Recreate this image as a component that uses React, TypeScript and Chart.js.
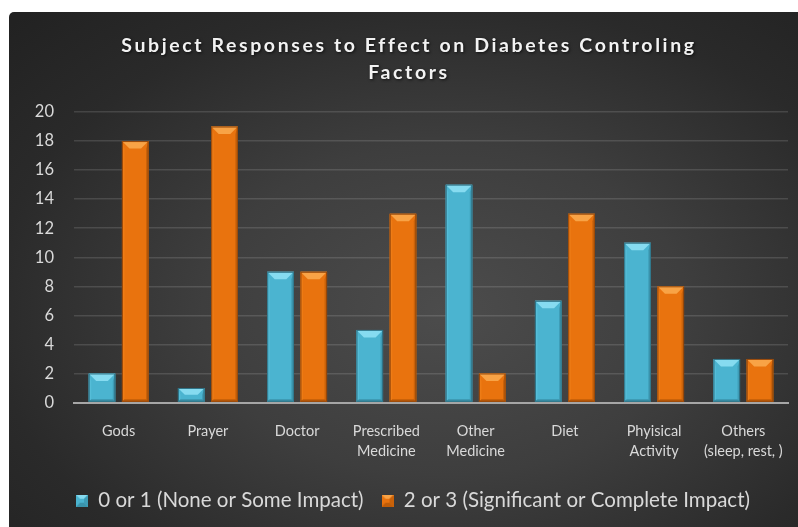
import React, { useEffect, useRef } from "react";
import { Chart, registerables } from "chart.js";

Chart.register(...registerables);

const categories: (string | string[])[] = [
  "Gods",
  "Prayer",
  "Doctor",
  ["Prescribed", "Medicine"],
  ["Other", "Medicine"],
  "Diet",
  ["Phyisical", "Activity"],
  ["Others", "(sleep, rest, )"],
];
const lowImpact = [2, 1, 9, 5, 15, 7, 11, 3];
const highImpact = [18, 19, 9, 13, 2, 13, 8, 3];
const seriesNames = ["0 or 1 (None or Some Impact)", "2 or 3 (Significant or Complete Impact)"];
const titleLines = ["Subject Responses to Effect on Diabetes Controling", "Factors"];

const CYAN = { body: "#4bb4d0", top: "#86dbf0", left: "#55bdd8", right: "#3e9cb6", bottom: "#3a93ab", edge: "#2f7184" };
const ORANGE = { body: "#e9730e", top: "#f8a346", left: "#ee7c16", right: "#c9620a", bottom: "#bf5c08", edge: "#94470a" };
const palettes = [CYAN, ORANGE];

function makeIcon(p: typeof CYAN): HTMLCanvasElement {
  const c = document.createElement("canvas");
  c.width = 12;
  c.height = 12;
  const g = c.getContext("2d")!;
  g.fillStyle = p.body;
  g.fillRect(0, 0, 12, 12);
  g.fillStyle = p.top;
  g.beginPath();
  g.moveTo(0, 0);
  g.lineTo(12, 0);
  g.lineTo(8, 4);
  g.lineTo(4, 4);
  g.closePath();
  g.fill();
  g.fillStyle = p.right;
  g.beginPath();
  g.moveTo(12, 0);
  g.lineTo(12, 12);
  g.lineTo(8, 8);
  g.lineTo(8, 4);
  g.closePath();
  g.fill();
  g.fillStyle = p.bottom;
  g.beginPath();
  g.moveTo(0, 12);
  g.lineTo(12, 12);
  g.lineTo(8, 8);
  g.lineTo(4, 8);
  g.closePath();
  g.fill();
  return c;
}

const bevelPlugin = {
  id: "bevel",
  afterDatasetsDraw(chart: any) {
    const ctx = chart.ctx;
    chart.data.datasets.forEach((_: any, di: number) => {
      const meta = chart.getDatasetMeta(di);
      const p = palettes[di];
      meta.data.forEach((bar: any) => {
        const { x, y, base, width } = bar.getProps(["x", "y", "base", "width"], true);
        const l = x - width / 2;
        const r = x + width / 2;
        const t = Math.min(y, base);
        const bt = Math.max(y, base);
        const h = bt - t;
        const b = Math.min(7.5, width / 2, h / 2);
        const s = Math.min(2.5, h / 2);
        ctx.save();
        ctx.fillStyle = p.left;
        ctx.beginPath();
        ctx.moveTo(l, t);
        ctx.lineTo(l + s, t + b);
        ctx.lineTo(l + s, bt - s);
        ctx.lineTo(l, bt);
        ctx.closePath();
        ctx.fill();
        ctx.fillStyle = p.right;
        ctx.beginPath();
        ctx.moveTo(r, t);
        ctx.lineTo(r - s, t + b);
        ctx.lineTo(r - s, bt - s);
        ctx.lineTo(r, bt);
        ctx.closePath();
        ctx.fill();
        ctx.fillStyle = p.bottom;
        ctx.beginPath();
        ctx.moveTo(l, bt);
        ctx.lineTo(l + s, bt - s);
        ctx.lineTo(r - s, bt - s);
        ctx.lineTo(r, bt);
        ctx.closePath();
        ctx.fill();
        ctx.fillStyle = p.top;
        ctx.beginPath();
        ctx.moveTo(l, t);
        ctx.lineTo(r, t);
        ctx.lineTo(r - b, t + b);
        ctx.lineTo(l + b, t + b);
        ctx.closePath();
        ctx.fill();
        ctx.strokeStyle = p.edge;
        ctx.lineWidth = 1;
        ctx.strokeRect(l + 0.5, t + 0.5, width - 1, h - 1);
        ctx.restore();
      });
    });
  },
};

const titlePlugin = {
  id: "customTitle",
  afterDraw(chart: any) {
    const ctx = chart.ctx;
    ctx.save();
    ctx.font = "bold 19.5px Lato";
    (ctx as any).letterSpacing = "2.6px";
    ctx.fillStyle = "#f2f2f2";
    ctx.textAlign = "center";
    ctx.textBaseline = "middle";
    ctx.shadowColor = "rgba(0,0,0,0.7)";
    ctx.shadowBlur = 3;
    ctx.shadowOffsetX = 1;
    ctx.shadowOffsetY = 1;
    const cx = 400;
    ctx.fillText(titleLines[0], cx, 34);
    ctx.fillText(titleLines[1], cx, 61);
    ctx.restore();
  },
};

export default function App() {
  const ref = useRef<HTMLCanvasElement>(null);
  useEffect(() => {
    const icons = palettes.map(makeIcon);
    const chart = new Chart(ref.current!, {
      type: "bar",
      data: {
        labels: categories,
        datasets: [
          {
            label: seriesNames[0],
            data: lowImpact,
            backgroundColor: CYAN.body,
            borderWidth: 0,
            categoryPercentage: 0.745,
            barPercentage: 0.8,
          },
          {
            label: seriesNames[1],
            data: highImpact,
            backgroundColor: ORANGE.body,
            borderWidth: 0,
            categoryPercentage: 0.745,
            barPercentage: 0.8,
          },
        ],
      },
      options: {
        animation: false,
        responsive: true,
        maintainAspectRatio: false,
        layout: { padding: { top: 100, left: 0, right: 0, bottom: 6 } },
        plugins: {
          title: { display: false },
          tooltip: { enabled: false },
          legend: {
            position: "bottom",
            labels: {
              color: "#d9d9d9",
              font: { family: "Lato", size: 20.5 },
              boxWidth: 12,
              boxHeight: 12,
              padding: 18,
              usePointStyle: true,
              generateLabels: (ch: any) =>
                ch.data.datasets.map((ds: any, i: number) => ({
                  text: ds.label,
                  pointStyle: icons[i],
                  fillStyle: palettes[i].body,
                  strokeStyle: palettes[i].body,
                  lineWidth: 0,
                  fontColor: "#d9d9d9",
                  datasetIndex: i,
                  hidden: false,
                })),
            },
          },
        },
        scales: {
          x: {
            grid: { display: false, drawTicks: false },
            border: { display: true, color: "#a6a6a6", width: 2 },
            ticks: {
              color: "#d9d9d9",
              font: { family: "Lato", size: 14.5, lineHeight: 1.35 },
              padding: 19,
              maxRotation: 0,
              autoSkip: false,
            },
            afterFit: (s: any) => {
              s.height = 70;
            },
          },
          y: {
            min: 0,
            max: 20,
            grid: { color: "rgba(255,255,255,0.13)", lineWidth: 1.5, drawTicks: false },
            border: { display: false },
            ticks: {
              stepSize: 2,
              color: "#d9d9d9",
              font: { family: "Lato", size: 16.5 },
              padding: 20,
            },
            afterFit: (s: any) => {
              s.width = 65;
            },
          },
          yRightSpacer: {
            position: "right",
            min: 0,
            max: 20,
            grid: { display: false, drawTicks: false },
            border: { display: false },
            ticks: { display: false },
            afterFit: (s: any) => {
              s.width = 29;
            },
          },
        },
      },
      plugins: [bevelPlugin, titlePlugin],
    });
    return () => chart.destroy();
  }, []);

  return (
    <div style={{ position: "fixed", left: 0, top: 0, width: 798, height: 527, overflow: "hidden", background: "#fff" }}>
      <div
        style={{
          position: "absolute",
          left: 9,
          top: 12,
          width: 808,
          height: 515,
          borderTopLeftRadius: 5,
          background:
            "radial-gradient(ellipse 75% 80% at 54% 58%, #4c4c4c 0%, #3e3e3e 40%, #2a2a2a 75%, #222222 100%)",
        }}
      >
        <canvas ref={ref} />
      </div>
    </div>
  );
}
